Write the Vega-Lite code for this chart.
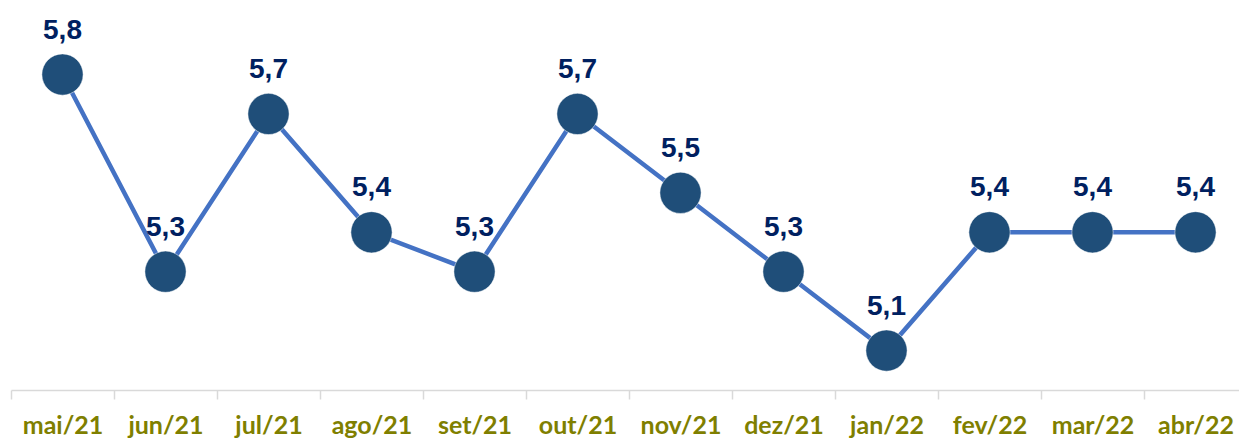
{
  "$schema": "https://vega.github.io/schema/vega-lite/v6.json",
  "autosize": "none",
  "width": 1236,
  "height": 390,
  "padding": {"left": 11, "top": 0, "right": 0, "bottom": 51},
  "config": {
    "view": {"stroke": null},
    "locale": {"number": {"decimal": ",", "thousands": ".", "grouping": [3], "currency": ["R$", ""]}}
  },
  "data": {"values": [
    {"mes": "mai/21", "v": 5.8},
    {"mes": "jun/21", "v": 5.3},
    {"mes": "jul/21", "v": 5.7},
    {"mes": "ago/21", "v": 5.4},
    {"mes": "set/21", "v": 5.3},
    {"mes": "out/21", "v": 5.7},
    {"mes": "nov/21", "v": 5.5},
    {"mes": "dez/21", "v": 5.3},
    {"mes": "jan/22", "v": 5.1},
    {"mes": "fev/22", "v": 5.4},
    {"mes": "mar/22", "v": 5.4},
    {"mes": "abr/22", "v": 5.4}
  ]},
  "encoding": {
    "x": {"field": "mes", "type": "ordinal", "sort": null,
      "scale": {"paddingInner": 0, "paddingOuter": 0},
      "axis": {"title": null, "labelAngle": 0, "tickBand": "extent", "domainColor": "#D9D9D9", "domainWidth": 1.5, "tickColor": "#D9D9D9", "tickWidth": 1.5, "tickSize": 9, "labelPadding": 14, "labelFont": "Lato", "labelFontWeight": "bold", "labelFontSize": 25, "labelColor": "#7F7F00", "labelBaseline": "top"}},
    "y": {"field": "v", "type": "quantitative", "scale": {"domain": [5.0, 5.989], "zero": false, "nice": false}, "axis": null}
  },
  "layer": [
    {"mark": {"type": "line", "color": "#4472C4", "strokeWidth": 4.5}},
    {"mark": {"type": "point", "filled": true, "color": "#1F4E79", "opacity": 1, "size": 1700, "stroke": "#FFFFFF", "strokeWidth": 0.5}},
    {"mark": {"type": "text", "dy": -44, "baseline": "middle", "font": "Liberation Sans", "fontWeight": "bold", "fontSize": 28, "color": "#002060"},
      "encoding": {"text": {"field": "v", "type": "quantitative", "format": ".1f"}}}
  ]
}
